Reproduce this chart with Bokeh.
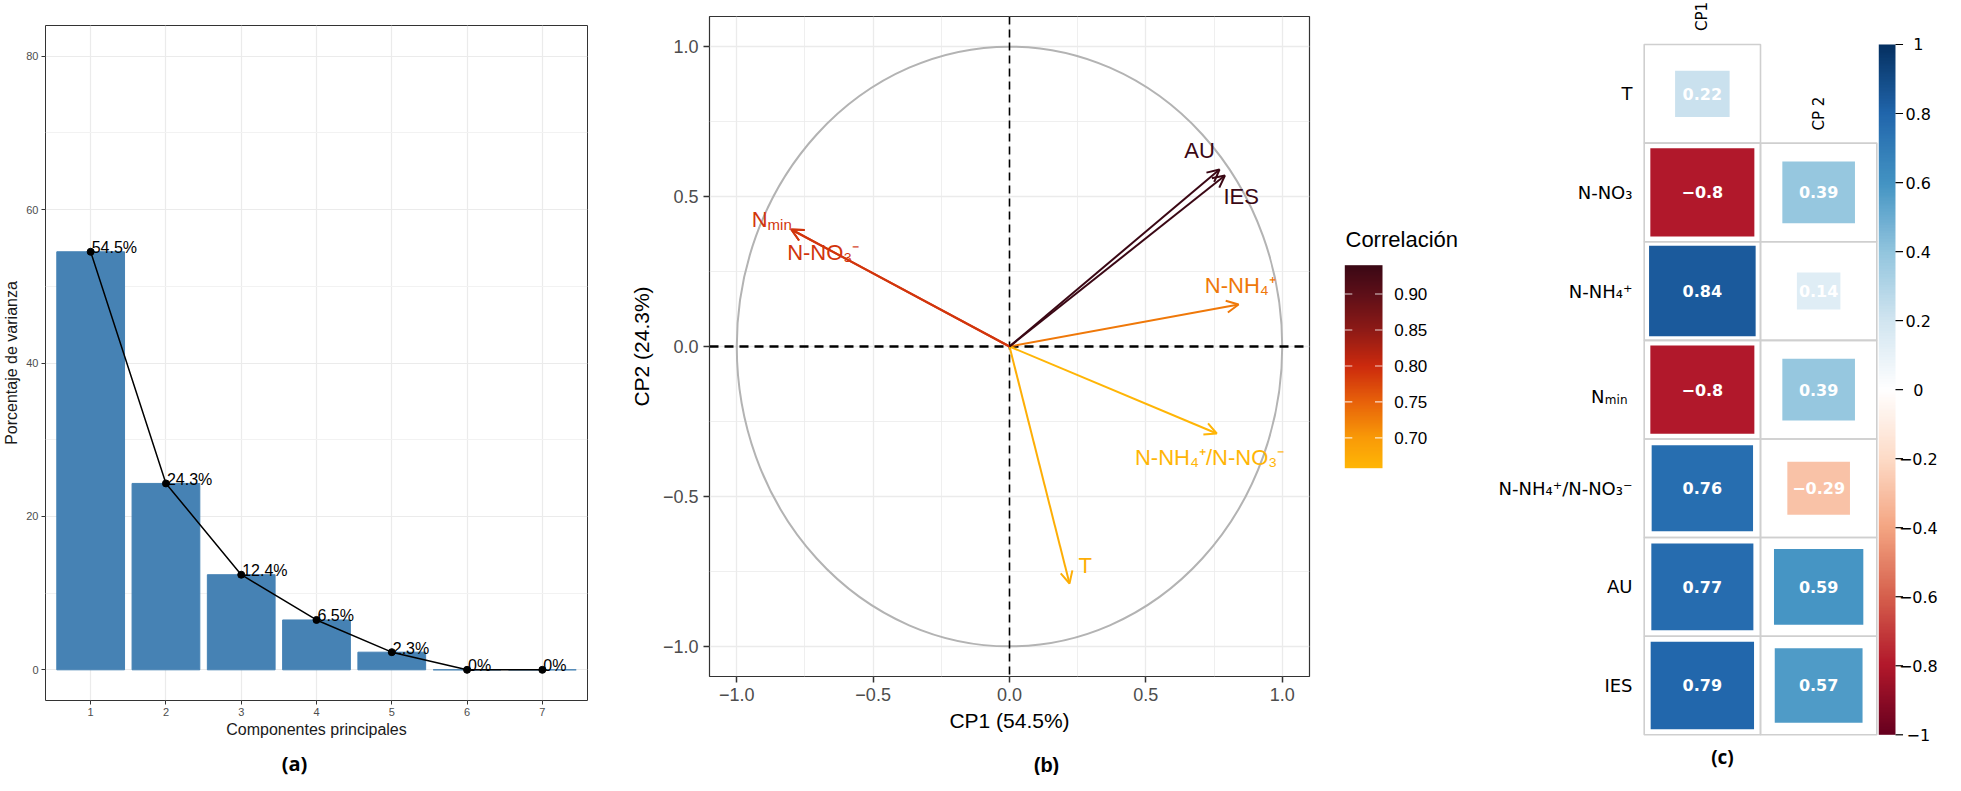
import numpy as np
from bokeh.plotting import figure
from bokeh.models import (ColumnDataSource, Range1d, FixedTicker, Arrow,
                          OpenHead, LinearColorMapper, Span)
from bokeh.layouts import row, column
from bokeh.core.properties import value
from bokeh.embed import file_html
from bokeh.resources import INLINE

# ---------------- data ----------------
# (a) scree plot
componentes = [1, 2, 3, 4, 5, 6, 7]
varianza = [54.5, 24.3, 12.4, 6.5, 2.3, 0.0, 0.0]
varianza_labels = ["54.5%", "24.3%", "12.4%", "6.5%", "2.3%", "0%", "0%"]
y_ticks_a = [0, 20, 40, 60, 80]

# (b) correlation circle
variables_b = ["T", "N-NO₃⁻", "N-NH₄⁺", "Nmin", "N-NH₄⁺/N-NO₃⁻", "AU", "IES"]
cp1_b = [0.22, -0.80, 0.84, -0.80, 0.76, 0.77, 0.79]
cp2_b = [-0.79, 0.39, 0.14, 0.39, -0.29, 0.59, 0.57]
correlacion_b = [0.67, 0.79, 0.73, 0.79, 0.66, 0.94, 0.95]
legend_ticks_b = [0.70, 0.75, 0.80, 0.85, 0.90]
axis_ticks_b = [-1.0, -0.5, 0.0, 0.5, 1.0]

# (c) correlation matrix (lower triangle)
variables_c = ["T", "N-NO₃", "N-NH₄⁺", "Nmin", "N-NH₄⁺/N-NO₃⁻", "AU", "IES"]
columns_c = ["CP1", "CP 2"]
cp1_c = [0.22, -0.8, 0.84, -0.8, 0.76, 0.77, 0.79]
cp2_c = [None, 0.39, 0.14, 0.39, -0.29, 0.59, 0.57]
colorbar_ticks_c = [-1, -0.8, -0.6, -0.4, -0.2, 0, 0.2, 0.4, 0.6, 0.8, 1]

captions = ["(a)", "(b)", "(c)"]

# ---------------- helpers ----------------
def hex_to_rgb(h):
    return tuple(int(h[i:i + 2], 16) for i in (1, 3, 5))

def lerp_color(v, stops, cols):
    v = min(max(v, stops[0]), stops[-1])
    for i in range(len(stops) - 1):
        if v <= stops[i + 1]:
            t = (v - stops[i]) / (stops[i + 1] - stops[i])
            a, b = hex_to_rgb(cols[i]), hex_to_rgb(cols[i + 1])
            return "#%02x%02x%02x" % tuple(int(round(a[k] + (b[k] - a[k]) * t)) for k in range(3))
    return cols[-1]

def fmt(v):
    return ("%g" % v).replace("-", "−")

def blank(width, height, xr, yr):
    f = figure(width=width, height=height, x_range=Range1d(*xr), y_range=Range1d(*yr),
               output_backend="svg", toolbar_location=None, min_border=0, frame_align=False)
    f.axis.visible = False
    f.grid.visible = False
    f.outline_line_color = None
    return f

SANS = "Liberation Sans"
DV = "DejaVu Sans"
GRID = "#EBEBEB"
TICKC = "#4D4D4D"

# ================= (a) =================
pA = figure(width=612, height=750, x_range=Range1d(0.4, 7.6), y_range=Range1d(-4, 84),
            output_backend="svg", toolbar_location=None, frame_align=False,
            min_border_left=44, min_border_right=25, min_border_top=25, min_border_bottom=50)
pA.outline_line_color = "#333333"
pA.outline_line_width = 1
pA.xaxis.ticker = FixedTicker(ticks=componentes)
pA.yaxis.ticker = FixedTicker(ticks=y_ticks_a, minor_ticks=[10, 30, 50, 70])
for ax in (pA.xaxis[0], pA.yaxis[0]):
    ax.axis_line_color = None
    ax.major_tick_line_color = "#333333"
    ax.major_tick_out = 4
    ax.major_tick_in = 0
    ax.minor_tick_line_color = None
    ax.major_label_text_font = SANS
    ax.major_label_text_font_size = "11px"
    ax.major_label_text_color = TICKC
    ax.major_label_standoff = 3
    ax.axis_label_text_font = SANS
    ax.axis_label_text_font_size = "16px"
    ax.axis_label_text_font_style = "normal"
    ax.axis_label_text_color = "#1A1A1A"
pA.xaxis.axis_label = "Componentes principales"
pA.yaxis.axis_label = "Porcentaje de varianza"
pA.xaxis.axis_label_standoff = 2
pA.yaxis.axis_label_standoff = 3
pA.xgrid.grid_line_color = GRID
pA.ygrid.grid_line_color = GRID
pA.ygrid.minor_grid_line_color = "#F2F2F2"
pA.xgrid.grid_line_width = 1.2
pA.ygrid.grid_line_width = 1.2

srcA = ColumnDataSource(dict(x=componentes, y=varianza, lab=varianza_labels))
pA.vbar(x="x", top="y", bottom=0, width=0.9, source=srcA,
        fill_color="#4682B4", line_color="#4682B4", line_width=1)
pA.line(x="x", y="y", source=srcA, line_color="black", line_width=1.5)
pA.scatter(x="x", y="y", source=srcA, size=7, color="black")
pA.text(x="x", y="y", text="lab", source=srcA, text_align="left",
        text_baseline="alphabetic", x_offset=1, y_offset=-4,
        text_font=value(SANS), text_font_size="16px", text_color="black")

capA = blank(612, 25, (0, 612), (0, 25))
capA.text(x=[294], y=[12.5], text=[captions[0]], text_align="center", text_baseline="middle",
          text_font=value("Open Sans"), text_font_style="bold", text_font_size="20px",
          text_color="black")

# ================= (b) =================
grad_stops = [0.658, 0.70, 0.75, 0.80, 0.85, 0.90, 0.94]
grad_cols = ["#FFB606", "#F99A07", "#E8620A", "#CC2A0D", "#8E1A16", "#5E0F18", "#3B0815"]
cols_b = [lerp_color(v, grad_stops, grad_cols) for v in correlacion_b]

pB = figure(width=720, height=750, x_range=Range1d(-1.1, 1.1), y_range=Range1d(-1.1, 1.1),
            output_backend="svg", toolbar_location=None, frame_align=False,
            min_border_left=97, min_border_right=23, min_border_top=16, min_border_bottom=74)
pB.outline_line_color = "#333333"
pB.outline_line_width = 1.2
over = {t: ("%.1f" % t).replace("-", "−") for t in axis_ticks_b}
for ax in (pB.xaxis[0], pB.yaxis[0]):
    ax.ticker = FixedTicker(ticks=axis_ticks_b, minor_ticks=[-0.75, -0.25, 0.25, 0.75])
    ax.major_label_overrides = over
    ax.axis_line_color = None
    ax.major_tick_line_color = "#333333"
    ax.major_tick_line_width = 1.5
    ax.major_tick_out = 6
    ax.major_tick_in = 0
    ax.minor_tick_line_color = None
    ax.major_label_text_font = SANS
    ax.major_label_text_font_size = "18px"
    ax.major_label_text_color = TICKC
    ax.major_label_standoff = 5
    ax.axis_label_text_font = SANS
    ax.axis_label_text_font_size = "21px"
    ax.axis_label_text_font_style = "normal"
    ax.axis_label_text_color = "black"
pB.xaxis.axis_label = "CP1 (54.5%)"
pB.yaxis.axis_label = "CP2 (24.3%)"
pB.xaxis.axis_label_standoff = 5
pB.yaxis.axis_label_standoff = 7
for g in (pB.xgrid[0], pB.ygrid[0]):
    g.grid_line_color = GRID
    g.grid_line_width = 1.3
    g.minor_grid_line_color = GRID
    g.minor_grid_line_width = 0.8

pB.ellipse(x=0, y=0, width=2, height=2, fill_color=None, line_color="#B3B3B3", line_width=2)
pB.add_layout(Span(location=0, dimension="height", line_color="black", line_width=1.6,
                   line_dash="8 5"))
pB.add_layout(Span(location=0, dimension="width", line_color="black", line_width=2.5,
                   line_dash="9 6"))
for i in range(len(variables_b)):
    pB.add_layout(Arrow(x_start=0, y_start=0, x_end=cp1_b[i], y_end=cp2_b[i],
                        line_color=cols_b[i], line_width=2,
                        end=OpenHead(size=12, line_color=cols_b[i], line_width=2)))

# label pixel offsets from arrow tips (style)
off_b = {"T": (15.7, -18.5), "N-NO₃⁻": (31.9, 22.8), "N-NH₄⁺": (1.7, -18.9),
         "N-NH₄⁺/N-NO₃⁻": (-7.2, 23.8), "AU": (-20, -19.2), "IES": (16.2, 20.8)}
lab = dict(x=[], y=[], t=[], c=[], dx=[], dy=[])
for i, name in enumerate(variables_b):
    if name == "Nmin":
        continue
    lab["x"].append(cp1_b[i]); lab["y"].append(cp2_b[i]); lab["t"].append(name)
    lab["c"].append(cols_b[i]); lab["dx"].append(off_b[name][0]); lab["dy"].append(off_b[name][1])
pB.text(x="x", y="y", text="t", text_color="c", x_offset="dx", y_offset="dy",
        source=ColumnDataSource(lab), text_align="center", text_baseline="middle",
        text_font=value(SANS), text_font_size="22px")
iN = variables_b.index("Nmin")
pB.text(x=[cp1_b[iN]], y=[cp2_b[iN]], text=["N"], text_color=cols_b[iN], x_offset=-39.6,
        y_offset=-10.2, text_align="left", text_baseline="alphabetic",
        text_font=value(SANS), text_font_size="22px")
pB.text(x=[cp1_b[iN]], y=[cp2_b[iN]], text=["min"], text_color=cols_b[iN], x_offset=-23.7,
        y_offset=-5.2, text_align="left", text_baseline="alphabetic",
        text_font=value(SANS), text_font_size="15px")

capB = blank(720, 25, (0, 720), (0, 25))
capB.text(x=[434], y=[11], text=[captions[1]], text_align="center", text_baseline="middle",
          text_font=value(SANS), text_font_style="bold", text_font_size="20px",
          text_color="black")

# ---- legend of (b) as its own panel ----
pL = blank(160, 775, (0, 160), (0, 775))
lo, hi = grad_stops[0], grad_stops[-1]
bar_x, bar_w, bar_y, bar_h = 12.3, 37.7, 307.3, 203.0
palL = [lerp_color(v, grad_stops, grad_cols) for v in np.linspace(lo, hi, 256)]
mapL = LinearColorMapper(palette=palL, low=lo, high=hi)
pL.image(image=[np.linspace(lo, hi, 256).reshape(-1, 1)], x=bar_x, y=bar_y, dw=bar_w, dh=bar_h,
         color_mapper=mapL)
ty = [bar_y + (t - lo) / (hi - lo) * bar_h for t in legend_ticks_b]
pL.segment(x0=[bar_x] * len(ty), x1=[bar_x + 7.5] * len(ty), y0=ty, y1=ty,
           line_color="white", line_width=1.2, line_alpha=0.8)
pL.segment(x0=[bar_x + bar_w - 7.5] * len(ty), x1=[bar_x + bar_w] * len(ty), y0=ty, y1=ty,
           line_color="white", line_width=1.2, line_alpha=0.8)
pL.text(x=[61.7] * len(ty), y=ty, text=["%.2f" % t for t in legend_ticks_b],
        text_align="left", text_baseline="middle", text_font=value(SANS),
        text_font_size="17px", text_color="black")
pL.text(x=[13], y=[536], text=["Correlación"], text_align="left", text_baseline="middle",
        text_font=value(SANS), text_font_size="22px", text_color="black")

# ================= (c) =================
pC = blank(453, 775, (-0.8044, 3.0907), (0.0872, 7.946))
rdbu = ["#67001F", "#B2182B", "#D6604D", "#F4A582", "#FDDBC7", "#FFFFFF",
        "#D1E5F0", "#92C5DE", "#4393C3", "#2166AC", "#053061"]
rdbu_stops = list(np.linspace(-1, 1, 11))
palC = [lerp_color(v, rdbu_stops, rdbu) for v in np.linspace(-1, 1, 256)]
mapC = LinearColorMapper(palette=palC, low=-1, high=1)

n = len(variables_c)
cells = dict(x=[], y=[], v=[], s=[], t=[])
for r, name in enumerate(variables_c):
    yv = n - r
    for j, vals in enumerate((cp1_c, cp2_c)):
        v = vals[r]
        if v is None:
            continue
        cells["x"].append(j + 1); cells["y"].append(yv); cells["v"].append(v)
        cells["s"].append(float(np.sqrt(abs(v)))); cells["t"].append(fmt(v))
srcC = ColumnDataSource(cells)
pC.rect(x="x", y="y", width=1, height=1, source=srcC, fill_color=None,
        line_color="#CFCFCF", line_width=1.6)
pC.rect(x="x", y="y", width="s", height="s", source=srcC,
        fill_color={"field": "v", "transform": mapC}, line_color=None)
pC.text(x="x", y="y", text="t", source=srcC, text_align="center", text_baseline="middle",
        text_font=value(DV), text_font_style="bold", text_font_size="16px", text_color="white")

# row labels
lab_x = 0.3994
rows_plain = [(n - r, name) for r, name in enumerate(variables_c) if name != "Nmin"]
pC.text(x=[lab_x] * len(rows_plain), y=[p[0] for p in rows_plain], text=[p[1] for p in rows_plain],
        text_align="right", text_baseline="middle", text_font=value(DV), text_font_size="18px",
        text_color="black")
rN = variables_c.index("Nmin")
pC.text(x=[lab_x], y=[n - rN], text=["min"], x_offset=-5, y_offset=10, text_align="right",
        text_baseline="alphabetic", text_font=value(DV), text_font_size="12px", text_color="black")
pC.text(x=[lab_x], y=[n - rN], text=["N"], x_offset=-28, y_offset=7, text_align="right",
        text_baseline="alphabetic", text_font=value(DV), text_font_size="18px", text_color="black")
# column labels
pC.text(x=[1], y=[7.784], text=[columns_c[0]], angle=np.pi / 2, text_align="center",
        text_baseline="middle", text_font=value(DV), text_font_size="15px", text_color="black")
pC.text(x=[2], y=[6.8], text=[columns_c[1]], angle=np.pi / 2, text_align="center",
        text_baseline="middle", text_font=value(DV), text_font_size="15px", text_color="black")

# colour bar of (c)
cb_x, cb_w = 2.517, 0.1436
pC.image(image=[np.linspace(-1, 1, 256).reshape(-1, 1)], x=cb_x, y=0.5, dw=cb_w, dh=n,
         color_mapper=mapC)
cty = [0.5 + (t + 1) / 2 * n for t in colorbar_ticks_c]
pC.segment(x0=[cb_x + cb_w] * len(cty), x1=[cb_x + cb_w + 0.065] * len(cty), y0=cty, y1=cty,
           line_color="black", line_width=1.2)
pC.text(x=[2.857] * len(cty), y=cty, text=[fmt(t) for t in colorbar_ticks_c], text_align="center",
        text_baseline="middle", text_font=value(DV), text_font_size="16px", text_color="black")
pC.text(x=[1.173], y=[0.27], text=[captions[2]], text_align="center", text_baseline="middle",
        text_font=value("Open Sans"), text_font_style="bold", text_font_size="19px",
        text_color="black")

layout = row(column(pA, capA, spacing=0), column(pB, capB, spacing=0), pL, pC, spacing=0)
open("out.html", "w").write(file_html(layout, INLINE))
